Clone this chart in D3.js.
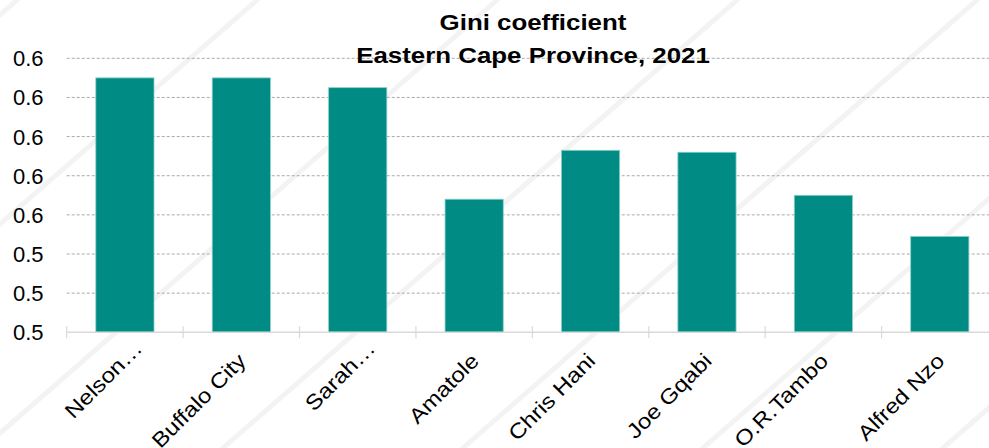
<!DOCTYPE html>
<html>
<head>
<meta charset="utf-8">
<script src="https://cdn.jsdelivr.net/npm/d3@7"></script>
<style>
  html, body { margin: 0; padding: 0; background: #ffffff; }
  svg { display: block; font-family: "Liberation Sans", Arial, sans-serif; }
</style>
</head>
<body>
<svg id="chart" width="989" height="448"></svg>
<script>
// Gini coefficient by district, Eastern Cape, 2021
const districts = ["Nelson\u2026", "Buffalo City", "Sarah\u2026", "Amatole", "Chris Hani", "Joe Gqabi", "O.R.Tambo", "Alfred Nzo"];
const gini = [0.630, 0.630, 0.625, 0.568, 0.593, 0.592, 0.570, 0.549];
const yTicks = [0.50, 0.52, 0.54, 0.56, 0.58, 0.60, 0.62, 0.64];
const titleLines = ["Gini coefficient", "Eastern Cape Province, 2021"];

const svg = d3.select("#chart");
const W = 989, H = 448;

// faint diagonal background strokes
const bg = svg.append("g").attr("class", "backdrop");
d3.range(-520, 1300, 240).forEach(x0 => {
  bg.append("line")
    .attr("x1", x0).attr("y1", H + 20)
    .attr("x2", x0 + 560).attr("y2", -20)
    .attr("stroke", "#f3f3f3").attr("stroke-width", 5);
});

const plotLeft = 66.7, plotRight = 998, axisY = 332.3, topY = 58.3;

const x = d3.scaleBand()
  .domain(districts)
  .range([plotLeft, plotRight])
  .paddingInner(0.5)
  .paddingOuter(0.25);

const y = d3.scaleLinear()
  .domain([yTicks[0], yTicks[yTicks.length - 1]])
  .range([axisY, topY]);

// dashed gridlines
svg.append("g")
  .selectAll("line")
  .data(yTicks.slice(1))
  .join("line")
  .attr("x1", plotLeft).attr("x2", W)
  .attr("y1", d => y(d)).attr("y2", d => y(d))
  .attr("stroke", "#a9a9a9")
  .attr("stroke-width", 1)
  .attr("stroke-dasharray", "3,2");

// y-axis labels
const yAxis = d3.axisLeft(y).tickValues(yTicks).tickFormat(d3.format(".1f")).tickSize(0).tickPadding(0);
const gy = svg.append("g").attr("transform", `translate(43.5,0)`).call(yAxis);
gy.select(".domain").remove();
gy.selectAll("text")
  .attr("font-family", "'Liberation Sans', Arial, sans-serif")
  .attr("font-size", 22)
  .attr("fill", "#000")
  .attr("dy", "0.34em");

// bars
svg.append("g")
  .selectAll("rect")
  .data(districts)
  .join("rect")
  .attr("x", d => x(d))
  .attr("width", x.bandwidth())
  .attr("y", (d, i) => y(gini[i]))
  .attr("height", (d, i) => axisY - y(gini[i]))
  .attr("fill", "#008c84")
  .attr("stroke", "#8fcfca")
  .attr("stroke-width", 0.8);

// category axis
const step = x.step();
const boundaries = d3.range(districts.length + 1).map(i => plotLeft + i * step);
const gx = svg.append("g");
gx.append("line")
  .attr("x1", plotLeft).attr("x2", W)
  .attr("y1", axisY).attr("y2", axisY)
  .attr("stroke", "#d9d9d9").attr("stroke-width", 1.5);
gx.selectAll("line.tick")
  .data(boundaries)
  .join("line")
  .attr("class", "tick")
  .attr("x1", d => d).attr("x2", d => d)
  .attr("y1", axisY - 6).attr("y2", axisY + 6)
  .attr("stroke", "#d9d9d9").attr("stroke-width", 1.2);

// rotated category labels; truncated names sit a little further along the slant
gx.selectAll("text")
  .data(districts)
  .join("text")
  .attr("transform", d => {
    const cx = x(d) + x.bandwidth() / 2;
    const extra = d.endsWith("\u2026") ? 18 : 0;
    return `translate(${cx + 6},${axisY + 30}) rotate(-45) translate(${extra},0) scale(1.15,1)`;
  })
  .attr("text-anchor", "end")
  .attr("font-size", 21)
  .attr("fill", "#000")
  .text(d => d);

// title
svg.append("g")
  .attr("transform", "translate(533,0) scale(1.15,1)")
  .selectAll("text")
  .data(titleLines)
  .join("text")
  .attr("x", 0)
  .attr("y", (d, i) => 30 + i * 33.3)
  .attr("text-anchor", "middle")
  .attr("font-weight", "bold")
  .attr("font-size", 22.5)
  .attr("fill", "#000")
  .text(d => d);
</script>
</body>
</html>
